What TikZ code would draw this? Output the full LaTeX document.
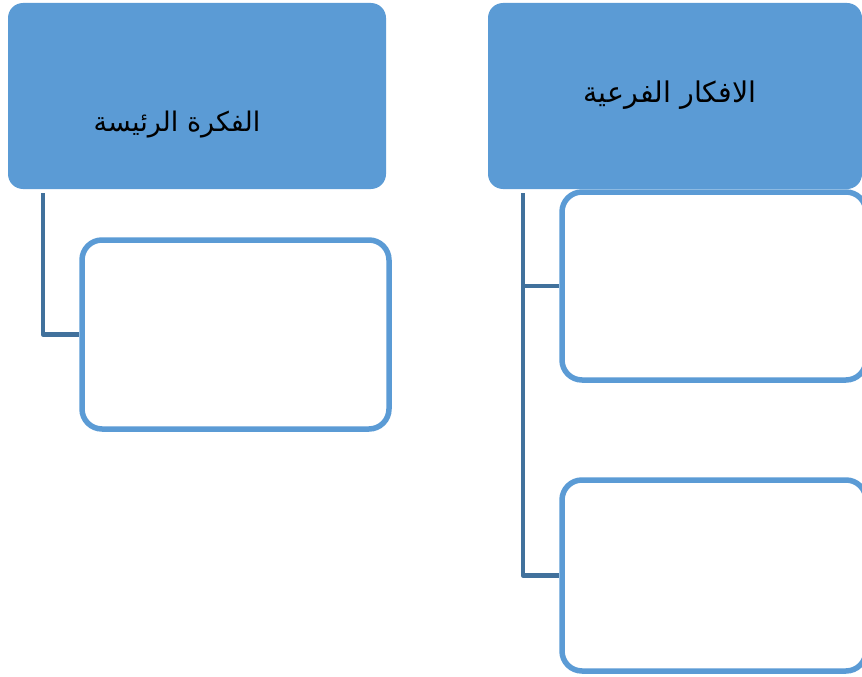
\documentclass[tikz,border=0pt]{standalone}
\usepackage{fontspec}
\newfontfamily\arabicfont[Script=Arabic]{DejaVu Sans}
\TeXXeTstate=1
\definecolor{hdrblue}{HTML}{5B9BD5}
\definecolor{connblue}{HTML}{41719C}
\begin{document}
\begin{tikzpicture}[x=1pt,y=-1pt,
  header/.style={draw=none,fill=hdrblue,rounded corners=15pt,inner sep=0pt,minimum height=186pt},
  child/.style={draw=hdrblue,line width=5.5pt,fill=white,rounded corners=20pt,inner sep=0pt},
  conn/.style={draw=connblue,line width=4.5pt,line join=round},
  lbl/.style={font=\arabicfont\fontsize{27}{32}\selectfont,text=black,inner sep=0pt}]
\useasboundingbox (0,0) rectangle (862,677);
\clip (0,0) rectangle (862,677);
% headers
\node[header,minimum width=378pt] (lh) at (197,96) {};
\node[header,minimum width=374pt] (rh) at (675,96) {};
\node[lbl] (lt) at (177,125) {\beginR الفكرة الرئيسة\endR};
\node[lbl,font=\arabicfont\fontsize{28.5}{34}\selectfont] (rt) at (670,95) {\beginR الافكار الفرعية\endR};
% children
\node[child,minimum width=307pt,minimum height=189pt] (lc) at (235.5,334.5) {};
\node[child,minimum width=304pt,minimum height=188pt] (rc1) at (714,286) {};
\node[child,minimum width=304pt,minimum height=191pt] (rc2) at (714,575.5) {};
% connectors
\coordinate (la) at (43,193);
\coordinate (ra) at (523,193);
\draw[conn] (la) |- (lc.west);
\draw[conn] (ra) |- (rc2.west);
\draw[conn] (ra |- rc1.west) -- (rc1.west);
\end{tikzpicture}
\end{document}
